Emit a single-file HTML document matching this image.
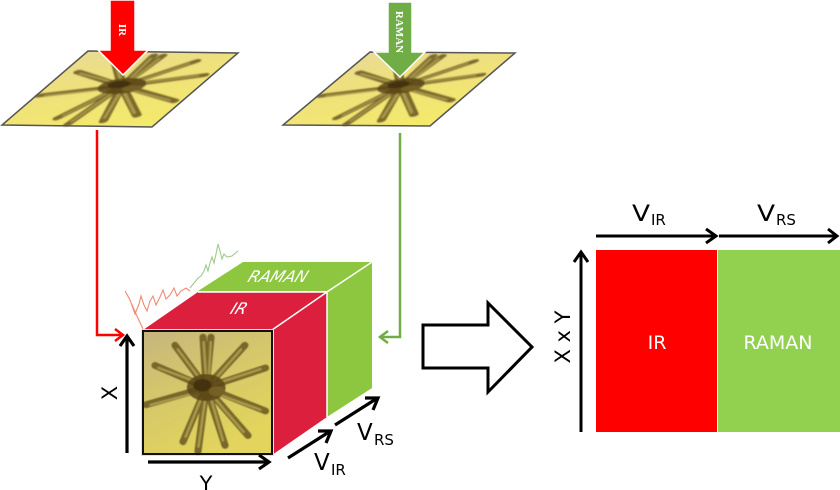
<!DOCTYPE html>
<html><head><meta charset="utf-8"><style>
html,body{margin:0;padding:0;background:#fff;}
svg{display:block;}
text{font-family:"DejaVu Sans","Liberation Sans",sans-serif;}
</style></head><body>
<svg width="840" height="490" viewBox="0 0 840 490" xmlns="http://www.w3.org/2000/svg">
<defs>
<linearGradient id="yb" x1="0" y1="0" x2="0.6" y2="1">
<stop offset="0" stop-color="#E6D8A0"/><stop offset="0.45" stop-color="#EEE07E"/><stop offset="1" stop-color="#F4EA6A"/>
</linearGradient>
<linearGradient id="fb" x1="0" y1="0" x2="0.5" y2="1">
<stop offset="0" stop-color="#C6B57E"/><stop offset="0.5" stop-color="#D6C86A"/><stop offset="1" stop-color="#E2D45C"/>
</linearGradient>
<filter id="bl" x="-10%" y="-10%" width="120%" height="120%"><feGaussianBlur stdDeviation="0.9"/></filter>
<filter id="bl2" x="-10%" y="-10%" width="120%" height="120%"><feGaussianBlur stdDeviation="0.5"/></filter>
<g id="crys">
<g stroke-linecap="round" fill="none">
<g stroke="#6E5C22" stroke-width="5.5" opacity="0.9">
<path d="M49,46 L46.5,5 M49,46 L52.7,5 M49,46 L24.8,11.6 M49,46 L79,11.6 M49,46 L9.3,28 M49,46 L95,30 M49,46 L2.3,60 M49,46 L95,65 M49,46 L31,90 M49,46 L42.6,98 M49,46 L63.6,93 M49,46 L81.4,85"/>
</g>
<g stroke="#B8A856" stroke-width="2" opacity="0.75">
<path d="M49,40 L47,9 M51,40 L52.5,9 M45,40 L27,15 M55,40 L76,15 M43,42 L12,30 M56,43 L91,31 M42,50 L6,60 M57,51 L91,64 M45,55 L33,86 M48,57 L43,94 M53,56 L62,89 M55,54 L78,82"/>
</g>
</g>
<ellipse cx="49" cy="46" rx="15" ry="11" fill="#5A4418" opacity="0.85"/>
<ellipse cx="46" cy="44" rx="7" ry="5" fill="#3C2A10" opacity="0.8"/>
<ellipse cx="57" cy="49" rx="6" ry="4" fill="#7A6628" opacity="0.8"/>
</g>
</defs>

<!-- top left sample -->
<g>
<polygon points="88,51 238,53 152,127 2,125" fill="url(#yb)"/>
<g filter="url(#bl)"><use href="#crys" transform="matrix(1.5,0.02,-0.86,0.74,88,51)"/></g>
<polygon points="88,51 238,53 152,127 2,125" fill="none" stroke="#555" stroke-width="1.5"/>
<polygon points="110,0 135,0 135,50 148,50 123,75 98,50 110,50" fill="#FF0000" stroke="#fff" stroke-width="1.5"/>
<text transform="translate(119,30) rotate(90)" font-weight="bold" font-size="11" fill="#fff" text-anchor="middle" style="font-family:'Liberation Serif',serif">IR</text>
</g>

<!-- top right sample -->
<g>
<polygon points="370,52 515,53 430,126 283,125" fill="url(#yb)"/>
<g filter="url(#bl)"><use href="#crys" transform="matrix(1.45,0.01,-0.87,0.73,370,52)"/></g>
<polygon points="370,52 515,53 430,126 283,125" fill="none" stroke="#555" stroke-width="1.5"/>
<polygon points="388,2 412,2 412,52 425,52 400,77 374,52 388,52" fill="#70AD47" stroke="#fff" stroke-width="1.5"/>
<text transform="translate(396,32) rotate(90)" font-weight="bold" font-size="11" fill="#fff" text-anchor="middle" style="font-family:'Liberation Serif',serif">RAMAN</text>
</g>

<!-- connectors -->
<g fill="none" stroke-width="2.5" stroke-linejoin="miter">
<path d="M97,130 V335 H121" stroke="#FF0000"/>
<path d="M115,329 L123,335 L115,341" stroke="#FF0000"/>
<path d="M400,133 V337 H382" stroke="#70AD47"/>
<path d="M388,331 L380,337 L388,343" stroke="#70AD47"/>
</g>

<!-- spectra -->
<polyline points="143,329 136,314 129,298 125,291 130,300 135,314 139,304 141,296 144,305 147,311 150,301 153,296 156,305 160,297 163,290 166,299 170,295 174,288 177,296 181,291 186,288 190,291" fill="none" stroke="#EE8A74" stroke-width="1.1"/>
<polyline points="190,288 194,283 198,278 201,276 204,271 206,265 208,271 210,263 212,257 214,263 216,254 218,244 220,251 222,259 224,254 227,257 232,256 238,251" fill="none" stroke="#9ECB8C" stroke-width="1.1"/>

<!-- cube -->
<polygon points="198,291 243,262 372,262 327,291" fill="#8DC63F"/>
<polygon points="327,291 372,262 372,388 327,417" fill="#8DC63F"/>
<polygon points="143,330 198,292 327,292 272,330" fill="#DC1F3C"/>
<polygon points="272,330 327,292 327,417 272,455" fill="#DC1F3C"/>
<g stroke="#fff" stroke-width="1.5" fill="none">
<path d="M198,292 H327 V417"/>
<path d="M272,330 L327,292 L372,262"/>
</g>
<text transform="translate(276,282) skewX(-22)" font-size="16" fill="#fff" text-anchor="middle" font-style="italic">RAMAN</text>
<text transform="translate(237,314) skewX(-22)" font-size="16" fill="#fff" text-anchor="middle" font-style="italic">IR</text>

<rect x="141.5" y="329.5" width="132" height="126" fill="none" stroke="#D8E4EE" stroke-width="1"/>
<rect x="143" y="331" width="129" height="123" fill="url(#fb)"/>
<g filter="url(#bl2)"><use href="#crys" transform="matrix(1.29,0,0,1.23,143,331)"/></g>
<rect x="143" y="331" width="129" height="123" fill="none" stroke="#111" stroke-width="2"/>

<!-- cube axes -->
<g stroke="#000" stroke-width="3.2" fill="none">
<path d="M127,453 V337"/>
<path d="M120,346 L127,336 L134,346"/>
<path d="M148,462 H268"/>
<path d="M259,455 L269,462 L259,469"/>
<path d="M288,458 L329,432"/>
<path d="M318,431 L331,431 L326,443"/>
<path d="M335,425 L376,399"/>
<path d="M365,398 L378,398 L373,410"/>
</g>
<text transform="translate(117,393) rotate(-90)" font-size="21" text-anchor="middle">X</text>
<text x="206" y="491" font-size="21" text-anchor="middle">Y</text>
<text x="314" y="470" font-size="23">V</text>
<text x="331" y="475" font-size="15">IR</text>
<text x="357" y="440" font-size="23">V</text>
<text x="374" y="445" font-size="15">RS</text>

<!-- big hollow arrow -->
<polygon points="423,325 488,325 488,303 532,347 488,392 488,368 423,368" fill="#fff" stroke="#000" stroke-width="3"/>

<!-- matrix -->
<rect x="596" y="250" width="121" height="182" fill="#FF0000"/>
<rect x="718" y="250" width="122" height="182" fill="#92D050"/>
<text x="657" y="349" font-size="19" fill="#fff" text-anchor="middle">IR</text>
<text x="778" y="349" font-size="19" fill="#fff" text-anchor="middle">RAMAN</text>

<g stroke="#000" stroke-width="3" fill="none">
<path d="M596,236 H715"/>
<path d="M706,229 L716,236 L706,243"/>
<path d="M719,236 H836"/>
<path d="M828,229 L837,236 L828,243"/>
<path d="M581,432 V253"/>
<path d="M574,262 L581,252 L588,262"/>
</g>
<text font-size="22" transform="translate(632,221) scale(1.2,1)">V</text>
<text x="651" y="225" font-size="15">IR</text>
<text font-size="22" transform="translate(757,221) scale(1.2,1)">V</text>
<text x="776" y="225" font-size="15">RS</text>
<text transform="translate(570,337) rotate(-90)" font-size="21" text-anchor="middle">X x Y</text>
</svg>
</body></html>
